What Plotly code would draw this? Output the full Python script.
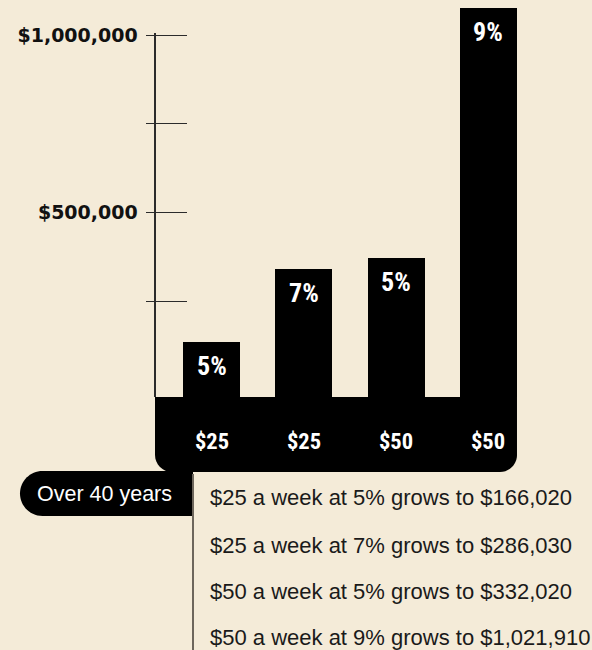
import plotly.graph_objects as go

# ---- data ----
weekly = ["$25", "$25", "$50", "$50"]
rates = ["5%", "7%", "5%", "9%"]
totals = ["$166,020", "$286,030", "$332,020", "$1,021,910"]
# bar heights as drawn in the picture (stylised)
bar_heights = [135000, 341000, 372000, 1076000]
tick_vals = [250000, 500000, 750000, 1000000]
tick_text = ["", "$500,000", "", "$1,000,000"]
period_label = "Over 40 years"

# ---- layout geometry (pixels of the 592x650 canvas) ----
W, H = 592, 650
BG = "#f4ebd8"
PX_ZERO = 390.0            # pixel row of value 0
PX_PER_UNIT = 355.0 / 1e6  # pixels per dollar
X0_PX, STEP_PX = 211.5, 92.33  # centre of first bar, bar spacing

def val_at(py):
    return (PX_ZERO - py) / PX_PER_UNIT

def xdat(px):
    return (px - X0_PX) / STEP_PX

def px2paper(px, py):
    return px / W, 1 - py / H

x_idx = list(range(len(bar_heights)))
bar_w = 57 / STEP_PX

band_top = val_at(397)
band_bottom = val_at(472)
band_left = xdat(155)
band_right = x_idx[-1] + bar_w / 2

COND = "Liberation Sans Narrow, Roboto Condensed, DejaVu Sans Condensed, Roboto, sans-serif"
SANS = "Liberation Sans, Arial, sans-serif"

fig = go.Figure()

# value bars, standing on the black base band
fig.add_trace(go.Bar(
    x=x_idx, y=[h - band_top for h in bar_heights], base=band_top, width=bar_w,
    marker=dict(color="#000", line=dict(width=0)),
    xaxis="x", yaxis="y2", hoverinfo="skip", showlegend=False))

# invisible trace to carry the visible y axis (ticks drawn as short gridlines)
fig.add_trace(go.Scatter(x=[0.5], y=[500000], mode="markers", marker=dict(opacity=0),
                         xaxis="x3", yaxis="y", hoverinfo="skip", showlegend=False))

annotations = []
for i, (h, r, w) in enumerate(zip(bar_heights, rates, weekly)):
    annotations.append(dict(x=i, y=h, xref="x", yref="y2", text=r, showarrow=False,
                            yshift=-24, font=dict(family=COND, size=26, color="#fff", weight=700)))
    annotations.append(dict(x=i, y=val_at(441), xref="x", yref="y2", text=w, showarrow=False,
                            font=dict(family=COND, size=22.5, color="#fff", weight=700)))

# pill label
px_, py_ = px2paper(35, 494)
annotations.append(dict(x=px_, y=py_, xref="paper", yref="paper", text=period_label,
                        xanchor="left", yanchor="middle", showarrow=False,
                        font=dict(family=SANS, size=21.5, color="#fff")))

# description lines
line_rows = [497, 545, 591, 637]
for (w, r, t), row in zip(zip(weekly, rates, totals), line_rows):
    lx, ly = px2paper(208, row)
    annotations.append(dict(x=lx, y=ly, xref="paper", yref="paper",
                            text=f"{w} a week at {r} grows to {t}",
                            xanchor="left", yanchor="middle", showarrow=False,
                            font=dict(family=SANS, size=22, color="#1a1a1a")))

k = 0.5523

# base band with rounded bottom corners (data coordinates)
rx = 17 / STEP_PX
ry = 17 / PX_PER_UNIT
bl, br, bt, bb = band_left, band_right, band_top, band_bottom
band_path = (f"M {bl},{bt} L {br},{bt} L {br},{bb + ry} "
             f"C {br},{bb + ry - k * ry} {br - rx + k * rx},{bb} {br - rx},{bb} "
             f"L {bl + rx},{bb} "
             f"C {bl + rx - k * rx},{bb} {bl},{bb + ry - k * ry} {bl},{bb + ry} Z")

# pill shape (rounded left end)
L, R, T, B = 20, 193, 471, 516
rad = (B - T) / 2
def P(px, py):
    a, b = px2paper(px, py)
    return f"{a:.5f},{b:.5f}"
pill_path = (f"M {P(R, T)} L {P(L + rad, T)} "
             f"C {P(L + rad - k * rad, T)} {P(L, T + rad - k * rad)} {P(L, T + rad)} "
             f"C {P(L, T + rad + k * rad)} {P(L + rad - k * rad, B)} {P(L + rad, B)} "
             f"L {P(R, B)} Z")
shapes = [
    dict(type="path", path=band_path, xref="x", yref="y2", fillcolor="#000",
         line=dict(width=0), layer="below"),
    dict(type="path", path=pill_path, xref="paper", yref="paper", fillcolor="#000",
         line=dict(width=0), layer="below"),
    dict(type="line", xref="paper", yref="paper",
         x0=193 / W, x1=193 / W, y0=1 - 474 / H, y1=0,
         line=dict(color="#6d665c", width=2)),
]

fig.update_layout(
    width=W, height=H, autosize=False,
    margin=dict(l=0, r=0, t=0, b=0, pad=0, autoexpand=False),
    paper_bgcolor=BG, plot_bgcolor="rgba(0,0,0,0)",
    barmode="overlay", bargap=0,
    xaxis=dict(visible=False, range=[xdat(0), xdat(W)], domain=[0, 1], fixedrange=True),
    yaxis2=dict(visible=False, range=[val_at(H), val_at(0)], domain=[0, 1],
                anchor="x", fixedrange=True),
    xaxis3=dict(visible=False, range=[0, 1], domain=[146 / W, 187 / W], anchor="y"),
    yaxis=dict(domain=[1 - 397 / H, 1 - 33 / H], range=[val_at(397), val_at(33)],
               anchor="free", position=154.5 / W,
               showline=True, linecolor="#2b2b2b", linewidth=2,
               showgrid=True, gridcolor="#2b2b2b", gridwidth=1,
               zeroline=False, ticks="", tickvals=tick_vals, ticktext=tick_text,
               ticklabelstandoff=12,
               tickfont=dict(family="DejaVu Sans, sans-serif", size=19, color="#111", weight=700),
               fixedrange=True),
    annotations=annotations,
    shapes=shapes,
    showlegend=False,
)

fig.write_html("out.html", config={"displayModeBar": False},
               post_script="document.body.style.margin='0';document.body.style.background='%s';" % BG)
